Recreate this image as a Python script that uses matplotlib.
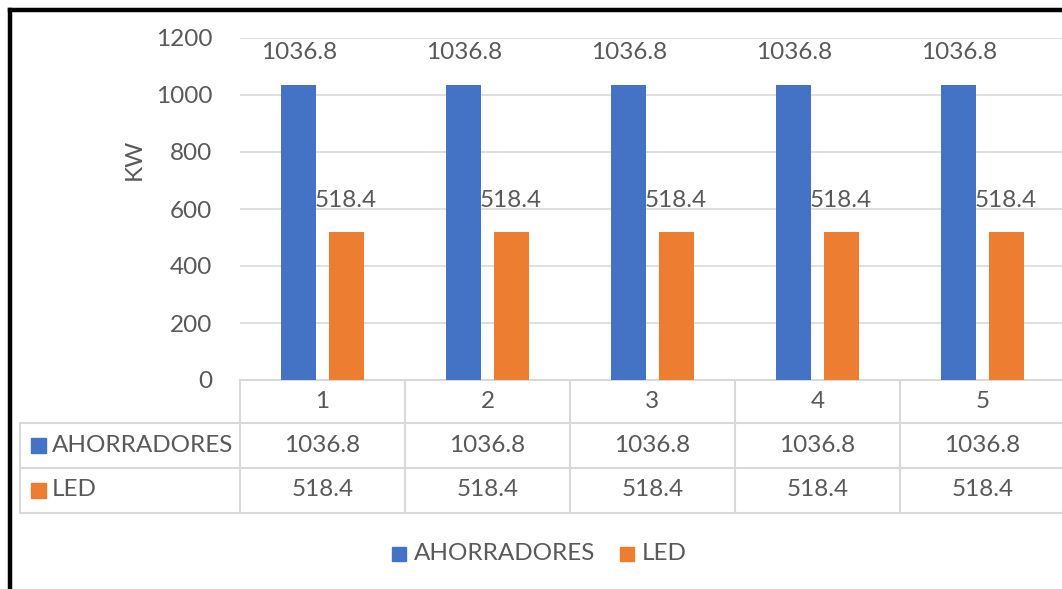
import matplotlib
matplotlib.use("Agg")
import matplotlib.pyplot as plt
from matplotlib.lines import Line2D
from matplotlib.patches import Rectangle
from matplotlib.transforms import blended_transform_factory

categories = ["1", "2", "3", "4", "5"]
series_names = ["AHORRADORES", "LED"]
ahorradores = [1036.8, 1036.8, 1036.8, 1036.8, 1036.8]
led = [518.4, 518.4, 518.4, 518.4, 518.4]
colors = ["#4472C4", "#ED7D31"]
yticks = [0, 200, 400, 600, 800, 1000, 1200]

W, H = 1062, 589
TXT = "#595959"
GRID = "#d9d9d9"
FONT = "Lato"
FS = 17.5


def fx(x):
    return x / W


def fy(y):
    return 1 - y / H


fig = plt.figure(figsize=(W / 100, H / 100), dpi=100)
ax_w = fx(1065) - fx(240)
ax = fig.add_axes([fx(240), fy(380), ax_w, fy(38) - fy(380)])

xs = list(range(len(categories)))
bw = 0.212
off = 0.143
for vals, c, sgn in [(ahorradores, colors[0], -1), (led, colors[1], 1)]:
    pos = [x + sgn * off for x in xs]
    ax.bar(pos, vals, width=bw, color=c, zorder=3)
    for p, v in zip(pos, vals):
        ax.annotate(f"{v}", (p, v), xytext=(0, 23), textcoords="offset points",
                    ha="center", va="center", color=TXT, fontsize=FS, family=FONT)

ax.set_xlim(-0.5, len(categories) - 0.5)
ax.set_ylim(0, 1200)
ax.set_yticks(yticks)
ax.set_yticklabels([str(t) for t in yticks], color=TXT, fontsize=FS, family=FONT)
ax.tick_params(axis="y", length=0, pad=20)
ax.set_xticks([])
ax.grid(axis="y", color=GRID, linewidth=1.2, zorder=0)
for s in ["top", "right", "left"]:
    ax.spines[s].set_visible(False)
ax.spines["bottom"].set_color(GRID)
ax.spines["bottom"].set_linewidth(1.5)
ax.set_ylabel("KW", color=TXT, fontsize=FS, family=FONT)
ax.yaxis.set_label_coords((145 - 240) / 825, 0.645)

# data table under the plot
tr = blended_transform_factory(ax.transData, fig.transFigure)
y_head, y_r1, y_r2, y_bot = 380, 423, 468, 513
lw = 1.5
for y in [y_r1, y_r2, y_bot]:
    fig.add_artist(Line2D([fx(20), 1.01], [fy(y), fy(y)], color=GRID, lw=lw))
fig.add_artist(Line2D([fx(20), fx(20)], [fy(y_r1), fy(y_bot)], color=GRID, lw=lw))
for x in [-0.5] + [x + 0.5 for x in xs]:
    fig.add_artist(Line2D([x, x], [fy(y_head), fy(y_bot)], color=GRID, lw=lw, transform=tr))

for x, lab in zip(xs, categories):
    fig.text(x, fy(401), lab, transform=tr, ha="center", va="center",
             color=TXT, fontsize=FS, family=FONT)
for rowy, vals in [(445, ahorradores), (490, led)]:
    for x, v in zip(xs, vals):
        fig.text(x, fy(rowy), f"{v}", transform=tr, ha="center", va="center",
                 color=TXT, fontsize=FS, family=FONT)
for rowy, name, c in [(445, series_names[0], colors[0]), (490, series_names[1], colors[1])]:
    fig.add_artist(Rectangle((fx(31), fy(rowy + 8)), fx(15), fy(0) - fy(15),
                             transform=fig.transFigure, color=c))
    fig.text(fx(52), fy(rowy), name, ha="left", va="center",
             color=TXT, fontsize=FS, family=FONT)

# legend at the bottom
for lx, name, c in [(392, series_names[0], colors[0]), (620, series_names[1], colors[1])]:
    fig.add_artist(Rectangle((fx(lx), fy(561)), fx(14), fy(0) - fy(14),
                             transform=fig.transFigure, color=c))
    fig.text(fx(lx + 22), fy(554), name, ha="left", va="center",
             color=TXT, fontsize=FS, family=FONT)

# black frame (top and left visible)
fig.add_artist(Line2D([fx(10), 1], [fy(10), fy(10)], color="black", lw=3.2))
fig.add_artist(Line2D([fx(10), fx(10)], [fy(10), 0], color="black", lw=3.2))

fig.savefig("out.png", dpi=100)
